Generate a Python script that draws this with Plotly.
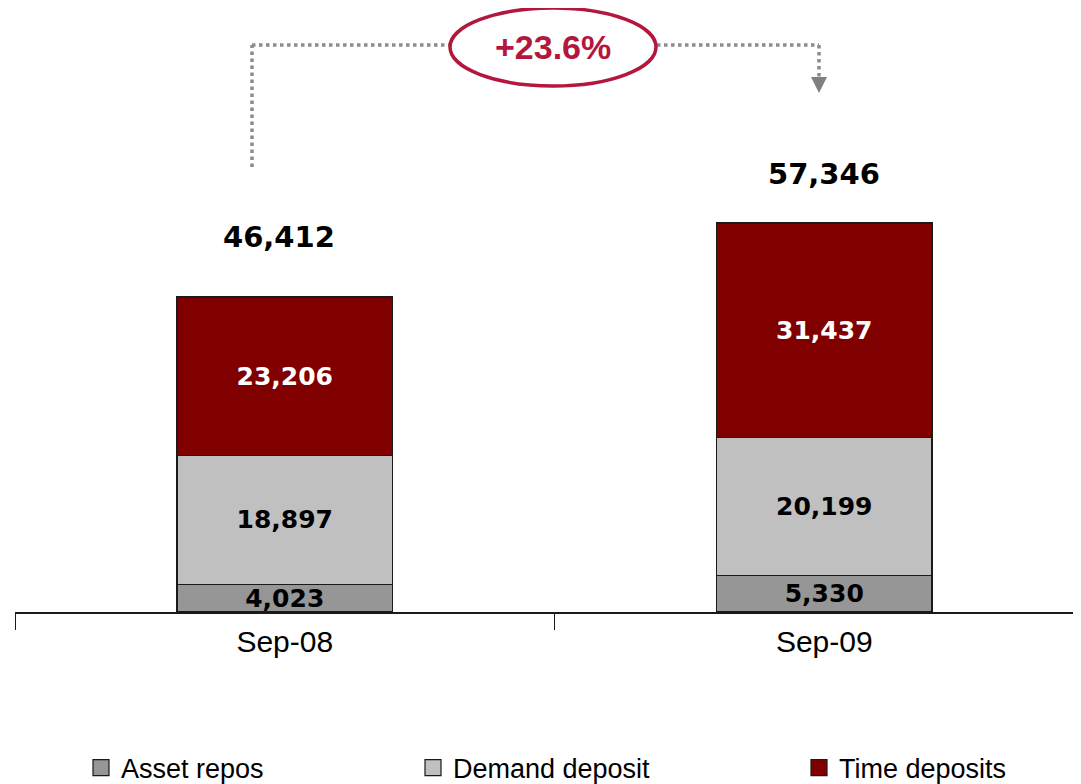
import plotly.graph_objects as go

# The page body has an 8px margin; the figure starts at page (8, 8).
# Map reference page pixels into figure coordinates.
OFF = 8
PAGE_W, PAGE_H = 1081, 784
W, H = PAGE_W - OFF, PAGE_H - OFF

categories = ["Sep-08", "Sep-09"]
asset_repos = [4023, 5330]
demand_deposit = [18897, 20199]
time_deposits = [23206, 31437]
totals = [46412, 57346]
total_labels = ["46,412", "57,346"]
growth_label = "+23.6%"

series = [
    ("Asset repos", asset_repos, "#969696", "black", "legend"),
    ("Demand deposit", demand_deposit, "#C0C0C0", "black", "legend2"),
    ("Time deposits", time_deposits, "#800000", "white", "legend3"),
]

fig = go.Figure()
for name, vals, color, tcolor, lg in series:
    fig.add_trace(go.Bar(
        x=categories, y=vals, name=name,
        marker=dict(color=color, line=dict(color="#1a1a1a", width=1.5)),
        width=0.4,
        text=[f"{v:,}" for v in vals],
        textposition="inside", insidetextanchor="middle", textangle=0,
        textfont=dict(family="DejaVu Sans", size=25, color=tcolor, weight="bold"),
        showlegend=False,
    ))
    # legend entry with a larger square symbol
    fig.add_trace(go.Scatter(
        x=[None], y=[None], mode="markers", name=name,
        marker=dict(symbol="square", size=16, color=color, line=dict(color="#1a1a1a", width=1.2)),
        legend=lg, showlegend=True,
    ))

# totals above bars
yshifts = [58, 46]
xshifts = [-6, 0]
for c, t, lab, ys, xs in zip(categories, totals, total_labels, yshifts, xshifts):
    fig.add_annotation(x=c, y=t, text=lab, showarrow=False, yshift=ys, xshift=xs,
                       font=dict(family="DejaVu Sans", size=29, color="black", weight="bold"))

def px(x):
    return (x - OFF) / W

def py(y):
    return 1 - (y - OFF) / H

dot = dict(color="#8C8C8C", width=3.5, dash="dot")
shapes = [
    dict(type="line", xref="paper", yref="paper", x0=px(252), x1=px(252), y0=py(167), y1=py(45), line=dot),
    dict(type="line", xref="paper", yref="paper", x0=px(252), x1=px(449), y0=py(45), y1=py(45), line=dot),
    dict(type="line", xref="paper", yref="paper", x0=px(657), x1=px(819), y0=py(45), y1=py(45), line=dot),
    dict(type="line", xref="paper", yref="paper", x0=px(819), x1=px(819), y0=py(45), y1=py(78), line=dot),
    dict(type="path", xref="paper", yref="paper",
         path=f"M {px(811)} {py(77)} L {px(827)} {py(77)} L {px(819)} {py(93)} Z",
         fillcolor="#808080", line=dict(width=0)),
    dict(type="circle", xref="paper", yref="paper", x0=px(450), x1=px(656), y0=py(86), y1=py(8),
         line=dict(color="#B3173C", width=3.5), fillcolor="white"),
]
fig.update_layout(shapes=shapes)
fig.add_annotation(xref="paper", yref="paper", x=px(553), y=py(47), xanchor="center", yanchor="middle",
                   text=growth_label, showarrow=False,
                   font=dict(family="Liberation Sans", size=34, color="#B3173C", weight="bold"))

# container-referenced legends so they do not push the margins
leg_common = dict(orientation="h", yanchor="middle", xanchor="left", y=py(768),
                  xref="container", yref="container",
                  font=dict(family="Liberation Sans", size=27, color="black"),
                  bgcolor="rgba(0,0,0,0)", itemwidth=30, itemclick=False)
fig.update_layout(
    legend=dict(x=px(81), **leg_common),
    legend2=dict(x=px(413), **leg_common),
    legend3=dict(x=px(799), **leg_common),
)

AXIS_Y = 612          # page y of the category axis
PX_PER_UNIT = 317 / 46412
plot_h = AXIS_Y - OFF
x_left_page, cat_step = 15, 539.5
x_right_page = PAGE_W

fig.update_layout(
    width=W, height=H,
    margin=dict(l=0, r=0, t=0, b=0, autoexpand=False),
    paper_bgcolor="white", plot_bgcolor="white",
    barmode="stack",
    showlegend=True,
    uniformtext=dict(mode="show", minsize=25),
    xaxis=dict(domain=[px(x_left_page), 1],
               range=[-0.5, -0.5 + (x_right_page - x_left_page) / cat_step], type="category",
               showline=True, linecolor="#1a1a1a", linewidth=1.5,
               ticks="outside", tickson="boundaries", ticklen=16, tickcolor="#1a1a1a", tickwidth=1,
               ticklabelstandoff=2, automargin=False,
               tickfont=dict(family="Liberation Sans", size=30, color="black"),
               showgrid=False, zeroline=False),
    yaxis=dict(domain=[py(AXIS_Y), 1], range=[0, plot_h / PX_PER_UNIT], visible=False,
               showgrid=False, automargin=False),
)

fig.write_html("out.html")
